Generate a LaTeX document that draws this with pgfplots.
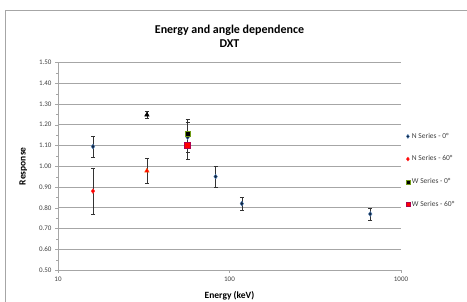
\documentclass[border=0pt]{standalone}
\usepackage{pgfplots}
\pgfplotsset{compat=1.18}
\usepackage{fontspec}
\setmainfont{Carlito}
\definecolor{navy}{HTML}{10253F}
\definecolor{edgeblue}{HTML}{4F81BD}
\definecolor{gridgray}{HTML}{A6A6A6}
\begin{document}
\begin{tikzpicture}[x=1pt,y=1pt]
\useasboundingbox (-58,-32) rectangle (409,270);
\draw[gridgray,line width=0.8pt] (-53,-60) rectangle (600,260);
\begin{axis}[
  at={(0,0)}, anchor=south west,
  scale only axis, width=343pt, height=207.5pt,
  xmode=log, xmin=10, xmax=1000, ymin=0.5, ymax=1.5,
  log basis x=10,
  xtick={10,100,1000}, xticklabels={10,100,1000},
  ytick={0.5,0.6,...,1.51},
  yticklabel style={/pgf/number format/.cd,fixed,fixed zerofill,precision=2},
  /pgf/number format/assume math mode=true,
  minor y tick num=1,
  ymajorgrids, grid style={gridgray,line width=0.6pt},
  axis x line*=bottom, axis y line*=left,
  axis line style={gridgray,line width=0.6pt,-},
  tick align=outside, tick style={gridgray},
  major tick length=3pt, minor tick length=2pt,
  tick label style={font=\fontsize{7}{8}\selectfont, text=black!75},
  xlabel={Energy (keV)}, ylabel={Response},
  label style={font=\bfseries\fontsize{9.5}{10}\selectfont},
  xlabel style={yshift=-3pt}, ylabel style={yshift=5pt},
  title={Energy and angle dependence\\DXT},
  title style={align=center,font=\bfseries\fontsize{12}{14}\selectfont, at={(0.5,1)}, anchor=south, yshift=5pt},
  legend style={at={(1.005,0.68)}, anchor=north west, draw=none, fill=none,
    font=\fontsize{7.5}{8}\selectfont, text=black!75, row sep=12pt,
    /tikz/every even column/.append style={column sep=0pt}},
  legend cell align=left,
  legend image code/.code={\draw[#1,mark size=2pt] (0.12cm,0cm) -- plot coordinates {(0.12cm,0cm)};},
  error bars/error bar style={black!80, line width=0.5pt},
  error bars/error mark options={rotate=90, mark size=2pt, black!80},
]
\addplot[only marks, mark=diamond*, mark size=2.4pt, mark options={fill=navy, draw=edgeblue}, error bars/.cd, y dir=both, y explicit]
 coordinates {(16,1.095) +- (0,0.05) (57,1.14) +- (0,0.07) (83,0.95) +- (0,0.05) (118,0.82) +- (0,0.03) (662,0.77) +- (0,0.03)};
\addlegendentry{N Series - 0°}
\addplot[only marks, mark=diamond*, mark size=2.4pt, mark options={fill=red, draw=red!80}, error bars/.cd, y dir=both, y explicit]
 coordinates {(16,0.88) +- (0,0.11)};
\addlegendentry{N Series - 60°}
\addplot[only marks, mark=square*, mark size=2.6pt, mark options={fill=black, draw=olive!60!green}, error bars/.cd, y dir=both, y explicit]
 coordinates {(57,1.157) +- (0,0.071)};
\addlegendentry{W Series - 0°}
\addplot[only marks, mark=square*, mark size=3pt, mark options={fill=red, draw=violet!60!red}, error bars/.cd, y dir=both, y explicit]
 coordinates {(57,1.10) +- (0,0.067)};
\addlegendentry{W Series - 60°}
\addplot[forget plot, only marks, mark=triangle*, mark size=2.6pt, mark options={fill=black, draw=black}, error bars/.cd, y dir=both, y explicit]
 coordinates {(33,1.248) +- (0,0.015)};
\addplot[forget plot, only marks, mark=triangle*, mark size=2.6pt, mark options={fill=red, draw=orange!70!red}, error bars/.cd, y dir=both, y explicit]
 coordinates {(33,0.978) +- (0,0.06)};
\end{axis}
\end{tikzpicture}
\end{document}
